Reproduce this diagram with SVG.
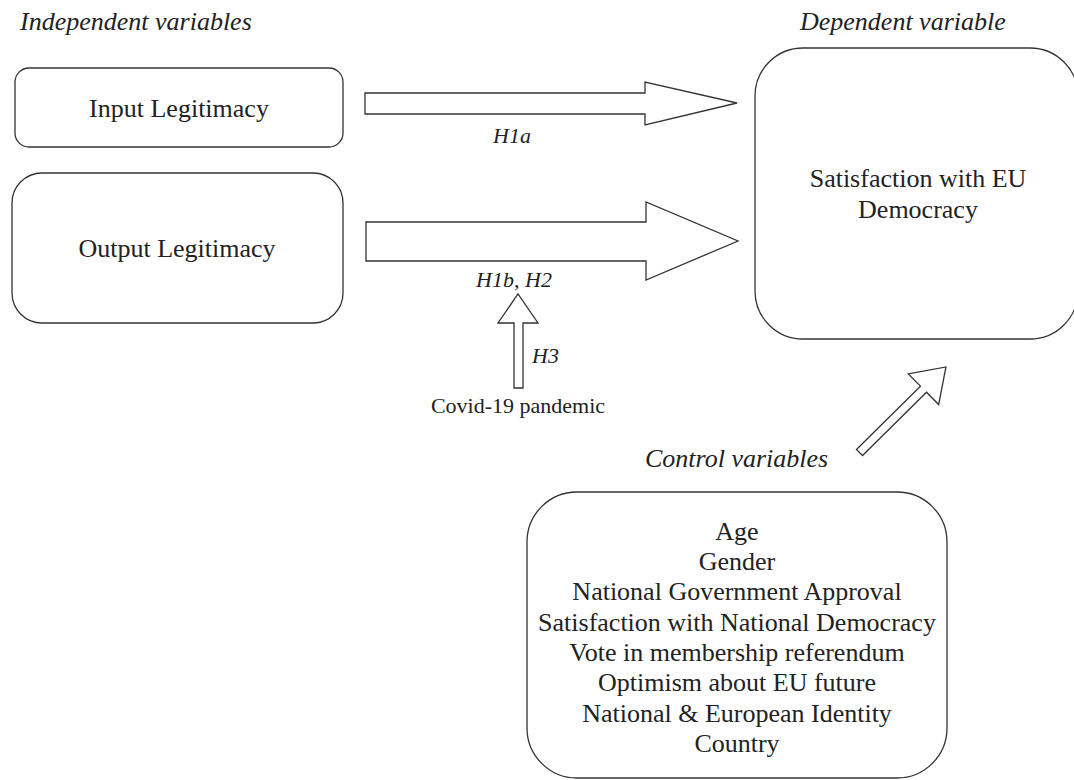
<svg xmlns="http://www.w3.org/2000/svg" width="1074" height="780" viewBox="0 0 1074 780">
<style>
.box{fill:#fff;stroke:#333;stroke-width:1.3}
.arr{fill:#fff;stroke:#333;stroke-width:1.3;stroke-linejoin:miter}
.t{font-family:"Liberation Serif","Times New Roman",serif;font-size:26px;fill:#222;text-anchor:middle}
.it{font-family:"Liberation Serif","Times New Roman",serif;font-size:26px;font-style:italic;fill:#222}
.lb{font-family:"Liberation Serif","Times New Roman",serif;font-size:22px;font-style:italic;fill:#222}
.sm{font-family:"Liberation Serif","Times New Roman",serif;font-size:22px;fill:#222;text-anchor:middle}
</style>
<rect width="1074" height="780" fill="#fff"/>
<text class="it" x="20" y="30">Independent variables</text>
<text class="it" x="800" y="30">Dependent variable</text>
<text class="it" x="645" y="467">Control variables</text>

<g id="input">
<rect class="box" x="15" y="68" width="328" height="79" rx="14"/>
<text class="t" x="179" y="117">Input Legitimacy</text>
</g>
<g id="output">
<rect class="box" x="12" y="173" width="331" height="150" rx="30"/>
<text class="t" x="177" y="257">Output Legitimacy</text>
</g>
<g id="dependent">
<rect class="box" x="755" y="48" width="323" height="291" rx="48"/>
<text class="t" x="918" y="187">Satisfaction with EU</text>
<text class="t" x="918" y="218">Democracy</text>
</g>
<g id="controls">
<rect class="box" x="527" y="492" width="420" height="286" rx="50"/>
<text class="t" x="737" y="540">Age</text>
<text class="t" x="737" y="570">Gender</text>
<text class="t" x="737" y="600">National Government Approval</text>
<text class="t" x="737" y="631">Satisfaction with National Democracy</text>
<text class="t" x="737" y="661">Vote in membership referendum</text>
<text class="t" x="737" y="691">Optimism about EU future</text>
<text class="t" x="737" y="722">National &amp; European Identity</text>
<text class="t" x="737" y="752">Country</text>
</g>
<g id="covid">
<text class="sm" x="518" y="413">Covid-19 pandemic</text>
</g>

<g id="connectors">
<polygon class="arr" points="365,93 645,93 645,82 737,103 645,125 645,114 365,114"/>
<polygon class="arr" points="366,222 646,222 646,202 738,241 646,280 646,261 366,261"/>
<polygon class="arr" points="514,388 514,323 498,323 518,294 538,323 523,323 523,388"/>
<polygon class="arr" transform="translate(859.5,452.5) rotate(-44.7)" points="0,-4.3 90,-4.3 90,-21.6 121.6,0 90,21.6 90,4.3 0,4.3"/>
<text class="lb" x="512" y="143" text-anchor="middle">H1a</text>
<text class="lb" x="514" y="287" text-anchor="middle">H1b, H2</text>
<text class="lb" x="532" y="363">H3</text>
</g>
</svg>
